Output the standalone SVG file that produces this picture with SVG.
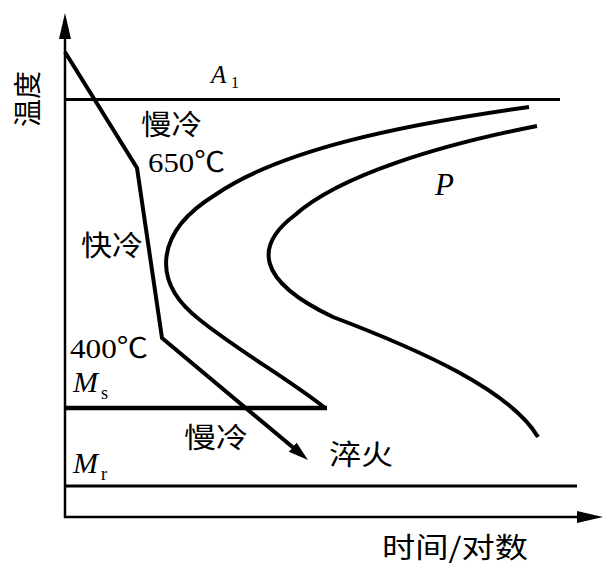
<svg xmlns="http://www.w3.org/2000/svg" width="616" height="573" viewBox="0 0 616 573">
<style>
.ln{fill:none;stroke:#000;stroke-linejoin:miter}
.cjk{font-family:"Noto Sans CJK SC","Noto Sans CJK JP",sans-serif;font-size:28px;fill:#000}
.num{font-family:"Liberation Serif","Noto Sans CJK SC",serif;font-size:28px;fill:#000}
.it{font-family:"Liberation Serif",serif;font-style:italic;fill:#000}
.sub{font-family:"Liberation Serif",serif;fill:#000}
</style>
<defs>
<marker id="axh" markerUnits="userSpaceOnUse" markerWidth="28" markerHeight="14" refX="14" refY="6" orient="auto"><path d="M0,0 L26,6 L0,12 z" fill="#000"/></marker>
<marker id="cah" markerUnits="userSpaceOnUse" markerWidth="22" markerHeight="14" refX="8" refY="6" orient="auto"><path d="M0,0 L20,6 L0,12 z" fill="#000"/></marker>
</defs>
<rect width="616" height="573" fill="#fff"/>
<g id="axes">
<line class="ln" x1="65" y1="518" x2="65" y2="25" stroke-width="2.5" marker-end="url(#axh)"/>
<line class="ln" x1="64" y1="517" x2="591" y2="517" stroke-width="2.5" marker-end="url(#axh)"/>
</g>
<g id="lines">
<line id="A1-line" class="ln" x1="65" y1="99.5" x2="560" y2="99.5" stroke-width="3"/>
<line id="Ms-line" class="ln" x1="65" y1="408" x2="327" y2="408" stroke-width="4.5"/>
<line id="Mr-line" class="ln" x1="65" y1="486" x2="577" y2="486" stroke-width="3"/>
</g>
<g id="curves">
<path id="start-curve" class="ln" stroke-width="4" d="M529,107 C400,125 280,150 215,195 C158,230 148,280 200,320 C240,352 290,380 325,408"/>
<path id="finish-curve" class="ln" stroke-width="4" d="M537,126 C440,145 340,175 295,215 C255,245 255,280 333,317 C420,350 510,390 538,437"/>
</g>
<g id="connectors">
<path id="cooling-path" class="ln" stroke-width="4" d="M65,52 L137,168 L162,338 L298.8,452.3" marker-end="url(#cah)"/>
</g>
<g id="labels">
<text class="cjk" transform="translate(38,99) rotate(-90)" text-anchor="middle">温度</text>
<text class="it" x="211" y="83" font-size="25">A</text>
<text class="sub" x="231" y="88" font-size="16">1</text>
<text class="cjk" x="141" y="135" textLength="61" lengthAdjust="spacingAndGlyphs">慢冷</text>
<text class="num" x="148" y="172" textLength="77" lengthAdjust="spacingAndGlyphs">650℃</text>
<text class="cjk" x="81" y="256" textLength="62" lengthAdjust="spacingAndGlyphs">快冷</text>
<text class="it" x="435" y="195" font-size="31">P</text>
<text class="num" x="70" y="358" textLength="78" lengthAdjust="spacingAndGlyphs">400℃</text>
<text class="it" x="73" y="392" font-size="30">M</text>
<text class="sub" x="101" y="399" font-size="18">s</text>
<text class="cjk" x="184" y="448" textLength="64" lengthAdjust="spacingAndGlyphs">慢冷</text>
<text class="cjk" x="329" y="465" textLength="64" lengthAdjust="spacingAndGlyphs">淬火</text>
<text class="it" x="73" y="473" font-size="30">M</text>
<text class="sub" x="101" y="480" font-size="18">r</text>
<text class="cjk" x="382" y="558" textLength="146" lengthAdjust="spacingAndGlyphs">时间/对数</text>
</g>
</svg>
